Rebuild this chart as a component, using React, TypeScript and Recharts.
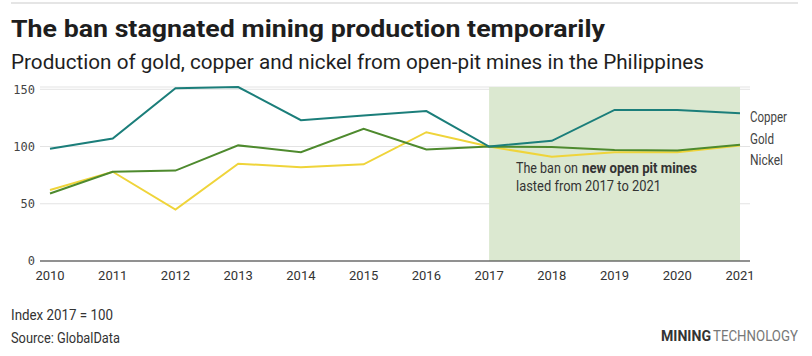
import React from 'react';
import { LineChart, Line, XAxis, YAxis, CartesianGrid, ReferenceArea } from 'recharts';

const years = ['2010', '2011', '2012', '2013', '2014', '2015', '2016', '2017', '2018', '2019', '2020', '2021'];
const copper = [98, 107, 151, 152, 123, 127, 131, 100, 105, 132, 132, 129];
const gold = [59, 78, 79, 101, 95, 115.5, 97.5, 100, 99.5, 97, 96.5, 101.5];
const nickel = [62, 78, 45, 85, 82, 84.5, 112.5, 100, 91, 95, 95, 101];
const yTicks = [0, 50, 100, 150];
const banStart = '2017';
const banEnd = '2021';

const data = years.map((year, i) => ({ year, copper: copper[i], gold: gold[i], nickel: nickel[i] }));

const FONT = 'Roboto, "Noto Sans", sans-serif';

export default function App() {
  return (
    <div style={{ position: 'fixed', left: 0, top: 0, width: 812, height: 356, background: '#fff', overflow: 'hidden' }}>
      <div style={{ position: 'absolute', left: 0, top: 0 }}>
        <LineChart width={812} height={356} data={data} margin={{ top: 87, right: 62, bottom: 75, left: 10 }}>
          <CartesianGrid horizontal vertical={false} stroke="#e3e3e3" strokeWidth={1} />
          <ReferenceArea x1={banStart} x2={banEnd} fill="#dbe8d0" fillOpacity={1} stroke="none" />
          <XAxis
            dataKey="year"
            interval={0}
            padding={{ left: 10, right: 10 }}
            tickSize={0}
            tickMargin={10}
            height={20}
            axisLine={{ stroke: '#333', strokeWidth: 1.2 }}
            tick={{ fontSize: 13, fill: '#333', fontFamily: FONT }}
          />
          <YAxis
            domain={[0, 152]}
            ticks={yTicks}
            width={30}
            tickSize={0}
            tickMargin={5}
            axisLine={false}
            tick={{ fontSize: 12, fill: '#444', fontFamily: '"DejaVu Sans Mono", "Liberation Mono", monospace' }}
          />
          <Line type="linear" dataKey="nickel" stroke="#efd43a" strokeWidth={2} dot={false} isAnimationActive={false} />
          <Line type="linear" dataKey="gold" stroke="#4e8a2e" strokeWidth={2} dot={false} isAnimationActive={false} />
          <Line type="linear" dataKey="copper" stroke="#1b7e7a" strokeWidth={2} dot={false} isAnimationActive={false} />
        </LineChart>
      </div>
      <svg width={812} height={356} style={{ position: 'absolute', left: 0, top: 0, pointerEvents: 'none' }} fontFamily={FONT}>
        <line x1={11} x2={798} y1={3} y2={3} stroke="#dcdcdc" strokeWidth={1.5} />
        <text x={11} y={36.5} fontSize={23} fontWeight={700} fill="#1e1e1e" textLength={594} lengthAdjust="spacingAndGlyphs">
          The ban stagnated mining production temporarily
        </text>
        <text x={11} y={68.5} fontSize={19.5} fill="#1e1e1e" textLength={693} lengthAdjust="spacingAndGlyphs">
          Production of gold, copper and nickel from open-pit mines in the Philippines
        </text>
        <text x={750} y={121.5} fontSize={14} fill="#444" textLength={37} lengthAdjust="spacingAndGlyphs">Copper</text>
        <text x={750} y={143.5} fontSize={14} fill="#444" textLength={24} lengthAdjust="spacingAndGlyphs">Gold</text>
        <text x={750} y={165} fontSize={14} fill="#444" textLength={33} lengthAdjust="spacingAndGlyphs">Nickel</text>
        <text x={516} y={173} fontSize={14.5} fill="#333" textLength={62} lengthAdjust="spacingAndGlyphs">The ban on</text>
        <text x={582} y={173} fontSize={14.5} fontWeight={700} fill="#333" textLength={115} lengthAdjust="spacingAndGlyphs">new open pit mines</text>
        <text x={516} y={190.5} fontSize={14.5} fill="#333" textLength={145} lengthAdjust="spacingAndGlyphs">
          lasted from 2017 to 2021
        </text>
        <text x={11} y={320} fontSize={14} fill="#333" textLength={102} lengthAdjust="spacingAndGlyphs">Index 2017 = 100</text>
        <text x={11} y={342.5} fontSize={14} fill="#333" textLength={109} lengthAdjust="spacingAndGlyphs">Source: GlobalData</text>
        <text x={661} y={341} fontSize={14} fontWeight={700} fill="#333" textLength={50} lengthAdjust="spacingAndGlyphs">MINING</text>
        <text x={713} y={341} fontSize={14} fill="#777" textLength={85} lengthAdjust="spacingAndGlyphs">TECHNOLOGY</text>
      </svg>
    </div>
  );
}
